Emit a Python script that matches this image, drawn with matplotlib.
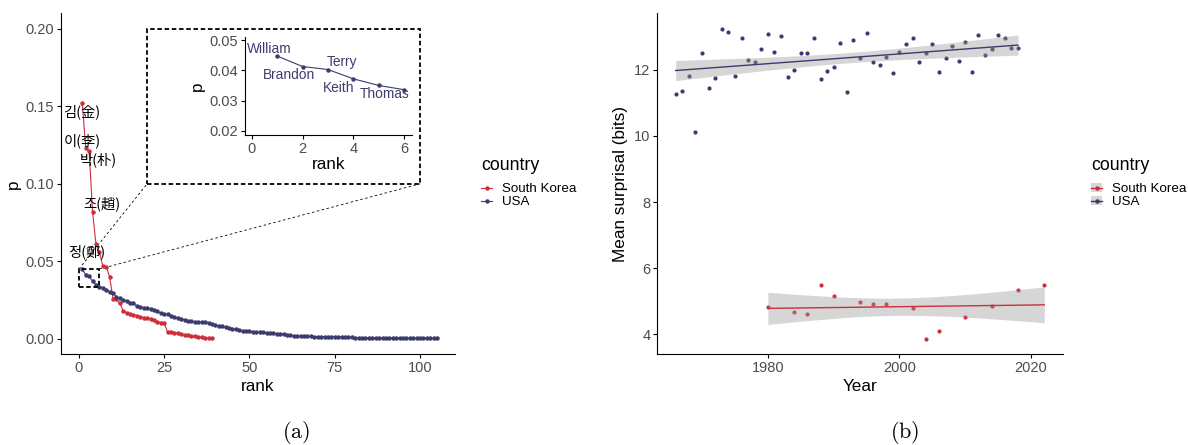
import numpy as np
import matplotlib
matplotlib.use('Agg')
import matplotlib.pyplot as plt
from matplotlib.patches import Rectangle, Patch
from matplotlib.lines import Line2D

plt.rcParams['font.family'] = ['Liberation Sans', 'DejaVu Sans']
plt.rcParams['mathtext.fontset'] = 'cm'

KR_COL = '#CD2E3A'
US_COL = '#3C3B6E'
TICK_COL = '#4D4D4D'

# rank / probability of surnames (panel a)
kr_p = [0.152, 0.123, 0.121, 0.082, 0.061, 0.056, 0.047, 0.0465, 0.040, 0.026,
        0.0255, 0.023, 0.0178, 0.0168, 0.0162, 0.0156, 0.0150, 0.0142, 0.0137, 0.0134,
        0.0130, 0.0120, 0.0110, 0.0105, 0.0100, 0.0045, 0.0043, 0.0040, 0.0036, 0.0031,
        0.0027, 0.0023, 0.0019, 0.0015, 0.0012, 0.0009, 0.0006, 0.0004, 0.0003]
us_p = [0.0448, 0.0413, 0.0403, 0.0372, 0.0350, 0.0336, 0.0330, 0.0318, 0.0302, 0.0298,
        0.0270, 0.0262, 0.0250, 0.0242, 0.0232, 0.0228, 0.0212, 0.0206, 0.0200, 0.0198,
        0.0194, 0.0188, 0.0177, 0.0166, 0.0162, 0.0157, 0.0150, 0.0143, 0.0135, 0.0128,
        0.0122, 0.0116, 0.0113, 0.0110, 0.0108, 0.0107, 0.0106, 0.0104, 0.0095, 0.0087,
        0.0084, 0.0081, 0.0076, 0.0070, 0.0065, 0.0061, 0.0056, 0.0052, 0.0049, 0.0048,
        0.0046, 0.0044, 0.0043, 0.0041, 0.0039, 0.0037, 0.0035, 0.0034, 0.0032, 0.0029,
        0.0026, 0.0023, 0.0020, 0.0018, 0.0017, 0.0016, 0.0015, 0.0015, 0.0014, 0.0014,
        0.0013, 0.0013, 0.0012, 0.0012, 0.0011, 0.0011, 0.0010, 0.0010, 0.0009, 0.0009,
        0.0008, 0.0008, 0.0008, 0.0007, 0.0007, 0.0006, 0.0006, 0.0006, 0.0005, 0.0005,
        0.0005, 0.0004, 0.0004, 0.0004, 0.0004, 0.0003, 0.0003, 0.0003, 0.0003, 0.0003,
        0.0002, 0.0002, 0.0002, 0.0002, 0.0002]
kr_rank = np.arange(1, len(kr_p) + 1)
us_rank = np.arange(1, len(us_p) + 1)

kr_labels = ['김(金)', '이(李)', '박(朴)', '조(趙)', '정(鄭)']
kr_label_pos = [(0.9, 0.1467), (0.9, 0.128), (5.85, 0.1158), (6.7, 0.0869), (2.3, 0.0563)]

us_names = ['William', 'Brandon', 'Terry', 'Keith', 'Thomas']
us_name_pos = [(0.68, 0.0471), (1.48, 0.0386), (3.54, 0.0427), (3.43, 0.0343), (5.24, 0.0322)]

# mean surprisal per year (panel b)
us_years = list(range(1966, 2019))
us_surp = [11.27, 11.34, 11.81, 10.11, 12.51, 11.44, 11.76, 13.23, 13.15, 11.81,
           12.94, 12.30, 12.22, 12.62, 13.08, 12.53, 13.01, 11.79, 11.98, 12.51,
           12.51, 12.94, 11.72, 11.97, 12.07, 12.80, 11.31, 12.90, 12.35, 13.10,
           12.24, 12.15, 12.37, 11.89, 12.53, 12.76, 12.96, 12.24, 12.51, 12.77,
           11.92, 12.34, 12.70, 12.26, 12.84, 11.94, 13.03, 12.43, 12.61, 13.03,
           12.95, 12.66, 12.64]
kr_years = [1980, 1984, 1986, 1988, 1990, 1994, 1996, 1998, 2002, 2004, 2006, 2010, 2014, 2018, 2022]
kr_surp = [4.82, 4.67, 4.63, 5.48, 5.17, 4.97, 4.91, 4.91, 4.80, 3.87, 4.10, 4.54, 4.85, 5.35, 5.48]

TICK_FS = 10.5
TITLE_FS = 12.3


def style(ax):
    for s in ['top', 'right']:
        ax.spines[s].set_visible(False)
    for s in ['left', 'bottom']:
        ax.spines[s].set_linewidth(0.8)
    ax.tick_params(length=3, width=0.8, labelsize=TICK_FS, labelcolor=TICK_COL, pad=2)


def lm_band(x, y, t):
    # ordinary least squares with 95% confidence band (like geom_smooth(method='lm'))
    x = np.asarray(x, float)
    y = np.asarray(y, float)
    b, a = np.polyfit(x, y, 1)
    resid = y - (a + b * x)
    n = len(x)
    s = np.sqrt(np.sum(resid ** 2) / (n - 2))
    xs = np.linspace(x.min(), x.max(), 80)
    se = s * np.sqrt(1 / n + (xs - x.mean()) ** 2 / np.sum((x - x.mean()) ** 2))
    fit = a + b * xs
    return xs, fit, fit - t * se, fit + t * se


fig = plt.figure(figsize=(11.88, 4.45), dpi=100)
W, H = 1188, 445

def box(l, t, r, b):
    return [l / W, 1 - b / H, (r - l) / W, (b - t) / H]

def add_legend(ax, x, handles):
    fig.text(x / W, 1 - 166 / H, 'country', fontsize=12.8, ha='left', va='center')
    ax.legend(handles=handles, labels=['South Korea', 'USA'], frameon=False,
              loc='upper left', bbox_to_anchor=(x / W, 1 - 183 / H), bbox_transform=fig.transFigure,
              fontsize=9.6, handlelength=0.85, handleheight=0.7, handletextpad=0.7,
              labelspacing=0.05, borderpad=0, borderaxespad=0)

# ---- panel a
ax1 = fig.add_axes(box(61, 13.3, 455, 354.3))
style(ax1)
ax1.plot(kr_rank, kr_p, '-', color=KR_COL, lw=0.8, marker='o', ms=2.2, zorder=3)
ax1.plot(us_rank, us_p, '-', color=US_COL, lw=0.8, marker='o', ms=2.2, zorder=3)
ax1.set_xlim(-5.25, 110.25)
ax1.set_ylim(-0.01, 0.21)
ax1.set_xticks([0, 25, 50, 75, 100])
ax1.set_yticks([0, 0.05, 0.10, 0.15, 0.20])
ax1.set_yticklabels(['0.00', '0.05', '0.10', '0.15', '0.20'])
ax1.set_xlabel('rank', fontsize=TITLE_FS, labelpad=3)
ax1.set_ylabel('p', fontsize=TITLE_FS, labelpad=3)
for lab, (x, y) in zip(kr_labels, kr_label_pos):
    ax1.text(x, y, lab, fontsize=10.3, ha='center', va='center', zorder=5,
             family=['Noto Sans CJK KR', 'DejaVu Sans'])

# zoom rectangle, inset frame and connectors
ax1.add_patch(Rectangle((0, 0.0335), 6, 0.0115, fill=False, ls=(0, (2.5, 1.5)), lw=1.3, color='black', zorder=4))
ax1.add_patch(Rectangle((20, 0.1), 80, 0.1, fill=False, ls=(0, (2.5, 1.5)), lw=1.3, color='black', zorder=4))
ax1.plot([0, 20], [0.045, 0.1], ls=(0, (3, 3)), lw=0.6, color='black', zorder=2)
ax1.plot([6, 100], [0.045, 0.1], ls=(0, (3, 3)), lw=0.6, color='black', zorder=2)

add_legend(ax1, 481, [Line2D([], [], color=KR_COL, lw=0.8, marker='o', ms=2.2),
                      Line2D([], [], color=US_COL, lw=0.8, marker='o', ms=2.2)])

# inset
axi = fig.add_axes(box(245, 37, 411.7, 135))
style(axi)
axi.plot(us_rank[:6], us_p[:6], '-', color=US_COL, lw=0.8, marker='o', ms=2.2)
axi.set_xlim(-0.26, 6.29)
axi.set_ylim(0.01856, 0.0511)
axi.set_xticks([0, 2, 4, 6])
axi.set_yticks([0.02, 0.03, 0.04, 0.05])
axi.set_xlabel('rank', fontsize=TITLE_FS, labelpad=1)
axi.set_ylabel('p', fontsize=TITLE_FS, labelpad=3)
for lab, (x, y) in zip(us_names, us_name_pos):
    axi.text(x, y, lab, fontsize=9.9, color=US_COL, ha='center', va='center')

# ---- panel b
ax2 = fig.add_axes(box(657.3, 13.3, 1062.7, 354.3))
style(ax2)
ax2.scatter(us_years, us_surp, s=9, color=US_COL, zorder=2, linewidths=0)
ax2.scatter(kr_years, kr_surp, s=9, color=KR_COL, zorder=2, linewidths=0)
for yrs, vals, col, t in [(us_years, us_surp, US_COL, 2.0076), (kr_years, kr_surp, KR_COL, 2.1604)]:
    xs, fit, lo, hi = lm_band(yrs, vals, t)
    ax2.fill_between(xs, lo, hi, color='#999999', alpha=0.4, lw=0, zorder=3)
    ax2.plot(xs, fit, color=col, lw=1.0, zorder=4)
ax2.set_xlim(1963.2, 2024.8)
ax2.set_ylim(3.40, 13.70)
ax2.set_xticks([1980, 2000, 2020])
ax2.set_yticks([4, 6, 8, 10, 12])
ax2.set_xlabel('Year', fontsize=TITLE_FS, labelpad=3)
ax2.set_ylabel('Mean surprisal (bits)', fontsize=TITLE_FS, labelpad=4)

band = Patch(facecolor='#D6D6D6', edgecolor='none')
add_legend(ax2, 1091, [(band, Line2D([], [], color=KR_COL, lw=1.0, marker='o', ms=2.2)),
                       (band, Line2D([], [], color=US_COL, lw=1.0, marker='o', ms=2.2))])

fig.text(296 / W, 1 - 433 / H, r'$\mathrm{(a)}$', fontsize=16, ha='center', va='center')
fig.text(905 / W, 1 - 433 / H, r'$\mathrm{(b)}$', fontsize=16, ha='center', va='center')

fig.savefig('out.png', dpi=100)
